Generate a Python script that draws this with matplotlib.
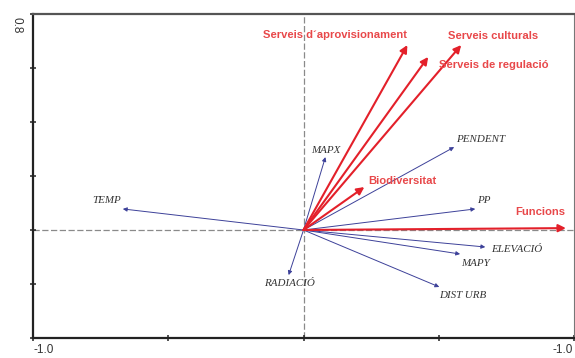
import matplotlib
matplotlib.use("Agg")
import matplotlib.pyplot as plt

# Environmental variables (blue vectors)
env_names = ["MAPX", "PENDENT", "PP", "ELEVACIÓ", "MAPY", "DIST URB", "TEMP", "RADIACIÓ"]
env_x = [0.081, 0.557, 0.635, 0.672, 0.579, 0.502, -0.668, -0.055]
env_y = [0.270, 0.307, 0.078, -0.063, -0.089, -0.211, 0.078, -0.167]

# Response variables (red vectors)
resp_names = ["Serveis d´aprovisionament", "Serveis de regulació", "Serveis culturals",
              "Biodiversitat", "Funcions"]
resp_x = [0.384, 0.461, 0.583, 0.225, 0.970]
resp_y = [0.685, 0.641, 0.685, 0.159, 0.007]

# Label placement: offset from arrow tip in pixels and horizontal alignment
env_label_offsets = {
    "MAPX": (-14, 7, "left"), "PENDENT": (2, 8, "left"), "PP": (2, 8, "left"),
    "ELEVACIÓ": (6, -2, "left"), "MAPY": (1, -9, "left"), "DIST URB": (0, -9, "left"),
    "TEMP": (-2, 8, "right"), "RADIACIÓ": (-25, -8, "left"),
}
resp_label_offsets = {
    "Serveis d´aprovisionament": (0, 10, "right"),
    "Serveis de regulació": (11, -8, "left"),
    "Serveis culturals": (-13, 9, "left"),
    "Biodiversitat": (4, 6, "left"),
    "Funcions": (-1, 16, "right"),
}

fig = plt.figure(figsize=(5.75, 3.58), dpi=100)
ax = fig.add_axes([33 / 575, 20 / 358, 541 / 575, 324 / 358])
ax.set_xlim(-1.0, 1.0)
ax.set_ylim(-0.4, 0.8)

# Dashed reference axes through the origin
ax.axhline(0, color="#8a8a8a", lw=0.9, ls=(0, (5, 2)), zorder=1)
ax.axvline(0, color="#8a8a8a", lw=0.9, ls=(0, (5, 2)), zorder=1)

blue = "#3d4199"
red = "#e3202a"
red_text = "#e8484a"

for name, x, y in zip(env_names, env_x, env_y):
    ax.annotate("", xy=(x, y), xytext=(0, 0),
                arrowprops=dict(arrowstyle="-|>", color=blue, lw=0.7,
                                mutation_scale=6, shrinkA=0, shrinkB=0),
                zorder=2)
    dx, dy, ha = env_label_offsets[name]
    ax.annotate(name, xy=(x, y), xytext=(dx, dy), textcoords="offset pixels",
                ha=ha, va="center", fontsize=7.9, style="italic",
                family="Liberation Serif", color="#333333", zorder=4)

for name, x, y in zip(resp_names, resp_x, resp_y):
    ax.annotate("", xy=(x, y), xytext=(0, 0),
                arrowprops=dict(arrowstyle="-|>", color=red, lw=1.5,
                                mutation_scale=11, shrinkA=0, shrinkB=0),
                zorder=3)
    dx, dy, ha = resp_label_offsets[name]
    ax.annotate(name, xy=(x, y), xytext=(dx, dy), textcoords="offset pixels",
                ha=ha, va="center", fontsize=8.1, fontweight="bold",
                family="Liberation Sans", color=red_text, zorder=4)

# Frame
for side in ("left", "bottom", "top"):
    ax.spines[side].set_linewidth(1.6)
    ax.spines[side].set_color("#222222")
ax.spines["top"].set_color("#555555")
ax.spines["right"].set_linewidth(0.8)
ax.spines["right"].set_color("#777777")

ax.set_xticks([-1.0, -0.5, 0.0, 0.5, 1.0])
ax.set_yticks([-0.4, -0.2, 0.0, 0.2, 0.4, 0.6, 0.8])
ax.tick_params(direction="inout", length=5, width=1.1, color="#222222",
               labelbottom=False, labelleft=False)

# Axis end labels
ax.text(-1.0, -0.445, "-1.0", ha="left", va="center", fontsize=8.5,
        family="Liberation Sans", color="#333333", transform=ax.transData, clip_on=False)
ax.text(0.996, -0.445, "-1.0", ha="right", va="center", fontsize=8.5,
        family="Liberation Sans", color="#333333", transform=ax.transData, clip_on=False)
ax.text(-1.06, 0.76, "0.8", ha="center", va="center", rotation=-90, fontsize=8.5,
        family="Liberation Sans", color="#333333", transform=ax.transData, clip_on=False)

fig.savefig("out.png", dpi=100)
